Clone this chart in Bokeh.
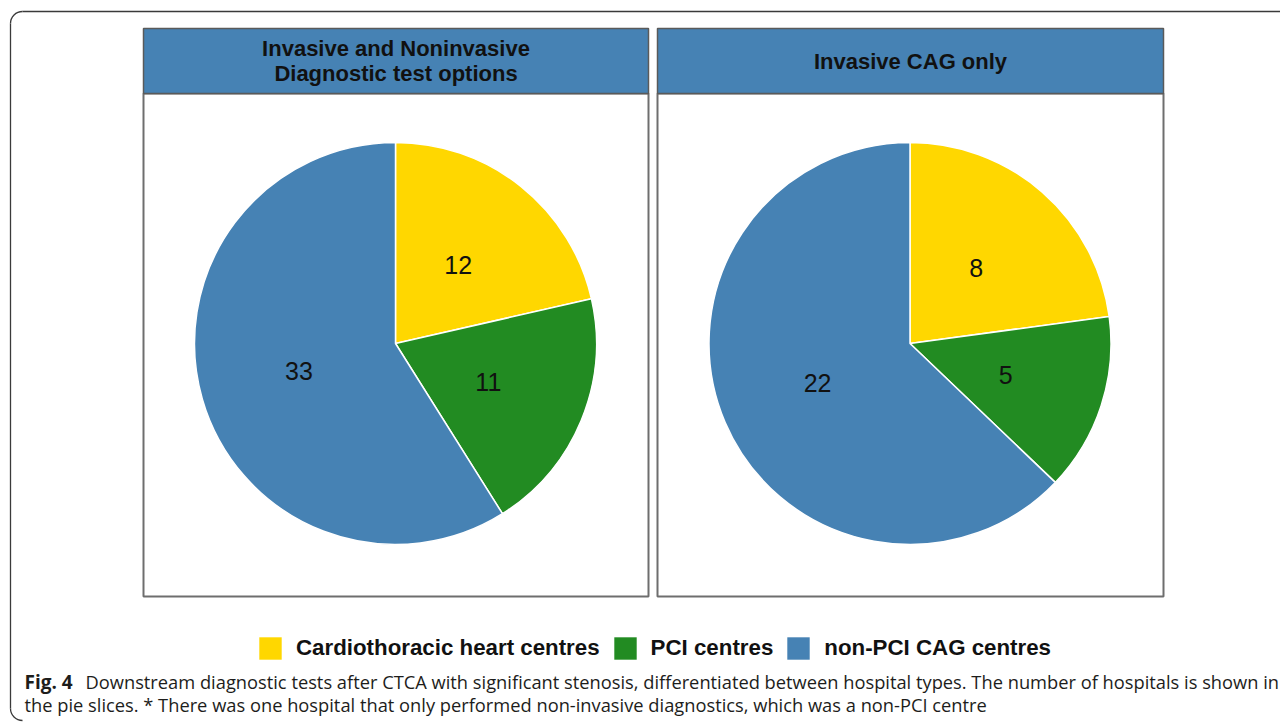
import math
from bokeh.plotting import figure
from bokeh.models import Range1d, Legend, LegendItem, ColumnDataSource
from bokeh.core.properties import value
from bokeh.embed import file_html
from bokeh.resources import INLINE

# ---- data ----
categories = ["Cardiothoracic heart centres", "PCI centres", "non-PCI CAG centres"]
colors = ["#FFD700", "#228B22", "#4682B4"]
panel_titles = [["Invasive and Noninvasive", "Diagnostic test options"], ["Invasive CAG only"]]
left_counts = [12, 11, 33]
right_counts = [8, 5, 22]
caption_bold = "Fig. 4"
caption_line1 = ("Downstream diagnostic tests after CTCA with significant stenosis, differentiated "
                 "between hospital types. The number of hospitals is shown in")
caption_line2 = ("the pie slices. * There was one hospital that only performed non-invasive "
                 "diagnostics, which was a non-PCI centre")

W, H = 1280, 722


def Y(py):
    return H - py


p = figure(width=W, height=H, x_range=Range1d(0, W), y_range=Range1d(0, H),
           output_backend="svg", toolbar_location=None, min_border=0)
p.axis.visible = False
p.grid.visible = False
p.outline_line_color = None
p.background_fill_color = "white"
p.border_fill_color = "white"

# outer figure frame (rounded corners on the left)
fc = "#3a3a3a"
p.line([22, W + 10], [Y(11), Y(11)], line_color=fc, line_width=1.3)
p.line([10, 10], [Y(23), Y(708)], line_color=fc, line_width=1.3)
p.arc(x=[22], y=[Y(23)], radius=12, start_angle=math.pi / 2, end_angle=math.pi,
      line_color=fc, line_width=1.3)
p.arc(x=[22], y=[Y(708)], radius=12, start_angle=math.pi, end_angle=1.5 * math.pi,
      line_color=fc, line_width=1.3)

panels = [
    dict(x0=143, x1=648, counts=left_counts, titles=panel_titles[0]),
    dict(x0=657, x1=1163, counts=right_counts, titles=panel_titles[1]),
]
top, strip_bot, bot = 28, 93, 596
R = 201
cy = 343

wedge_renderers = []
for pan in panels:
    x0, x1 = pan["x0"], pan["x1"]
    cx = (x0 + x1) / 2 - 0.5
    # panel background + border
    p.quad(left=[x0], right=[x1], top=[Y(strip_bot)], bottom=[Y(bot)],
           fill_color="white", line_color="#6e6e6e", line_width=2)
    # strip
    p.quad(left=[x0], right=[x1], top=[Y(top)], bottom=[Y(strip_bot)],
           fill_color="#4682B4", line_color="#5a5a5a", line_width=1.5)
    mid = (top + strip_bot) / 2
    n = len(pan["titles"])
    for i, t in enumerate(pan["titles"]):
        ty = mid + (i - (n - 1) / 2) * 25
        p.text(x=[(x0 + x1) / 2], y=[Y(ty)], text=[t], text_align="center",
               text_baseline="middle", text_font=value("Liberation Sans"),
               text_font_style="bold", text_font_size="22px", text_color="#111111")
    counts = pan["counts"]
    total = sum(counts)
    starts, ends, lx, ly = [], [], [], []
    cum = 0
    for c in counts:
        a0 = math.pi / 2 - 2 * math.pi * cum / total
        cum += c
        a1 = math.pi / 2 - 2 * math.pi * cum / total
        starts.append(a0)
        ends.append(a1)
        am = (a0 + a1) / 2
        lx.append(cx + 0.5 * R * math.cos(am))
        ly.append(Y(cy) + 0.5 * R * math.sin(am))
    src = ColumnDataSource(dict(x=[cx] * 3, y=[Y(cy)] * 3, s=starts, e=ends, c=colors,
                                lx=lx, ly=ly, t=[str(v) for v in counts]))
    wr = p.wedge(x="x", y="y", radius=R, start_angle="s", end_angle="e", direction="clock",
                 fill_color="c", line_color="white", line_width=1.5, source=src)
    wedge_renderers.append(wr)
    p.text(x="lx", y="ly", text="t", source=src, text_align="center", text_baseline="middle",
           text_font=value("Liberation Sans"), text_font_size="25px", text_color="#111111")

# legend (keys drawn from a hidden area renderer carrying the category colours)
key_src = ColumnDataSource(dict(l=[0, 0, 0], r=[1, 1, 1], b=[0, 0, 0], t=[1, 1, 1], c=colors))
key_r = p.quad(left="l", right="r", bottom="b", top="t", fill_color="c", line_color=None,
               source=key_src, visible=False)
items = [LegendItem(label=categories[i], renderers=[key_r], index=i) for i in range(3)]
legend = Legend(items=items, location=(256, H - 662), orientation="horizontal",
                glyph_width=28, glyph_height=28, label_standoff=12, spacing=11,
                padding=0, margin=0, border_line_color=None, background_fill_alpha=0,
                label_text_font="Liberation Sans", label_text_font_style="bold",
                label_text_font_size="22.3px", label_text_color="#111111", label_height=22,
                click_policy="none")
p.add_layout(legend, "center")

# caption
cap_font = value("Open Sans")
p.text(x=[24], y=[Y(681)], text=[caption_bold], text_align="left", text_baseline="middle",
       text_font=cap_font, text_font_style="bold", text_font_size="19px", text_color="#1d1d1b")
p.text(x=[85], y=[Y(681)], text=[caption_line1], text_align="left", text_baseline="middle",
       text_font=cap_font, text_font_size="18.3px", text_color="#1d1d1b")
p.text(x=[24], y=[Y(704)], text=[caption_line2], text_align="left", text_baseline="middle",
       text_font=cap_font, text_font_size="18.3px", text_color="#1d1d1b")

open("out.html", "w").write(file_html(p, INLINE))
